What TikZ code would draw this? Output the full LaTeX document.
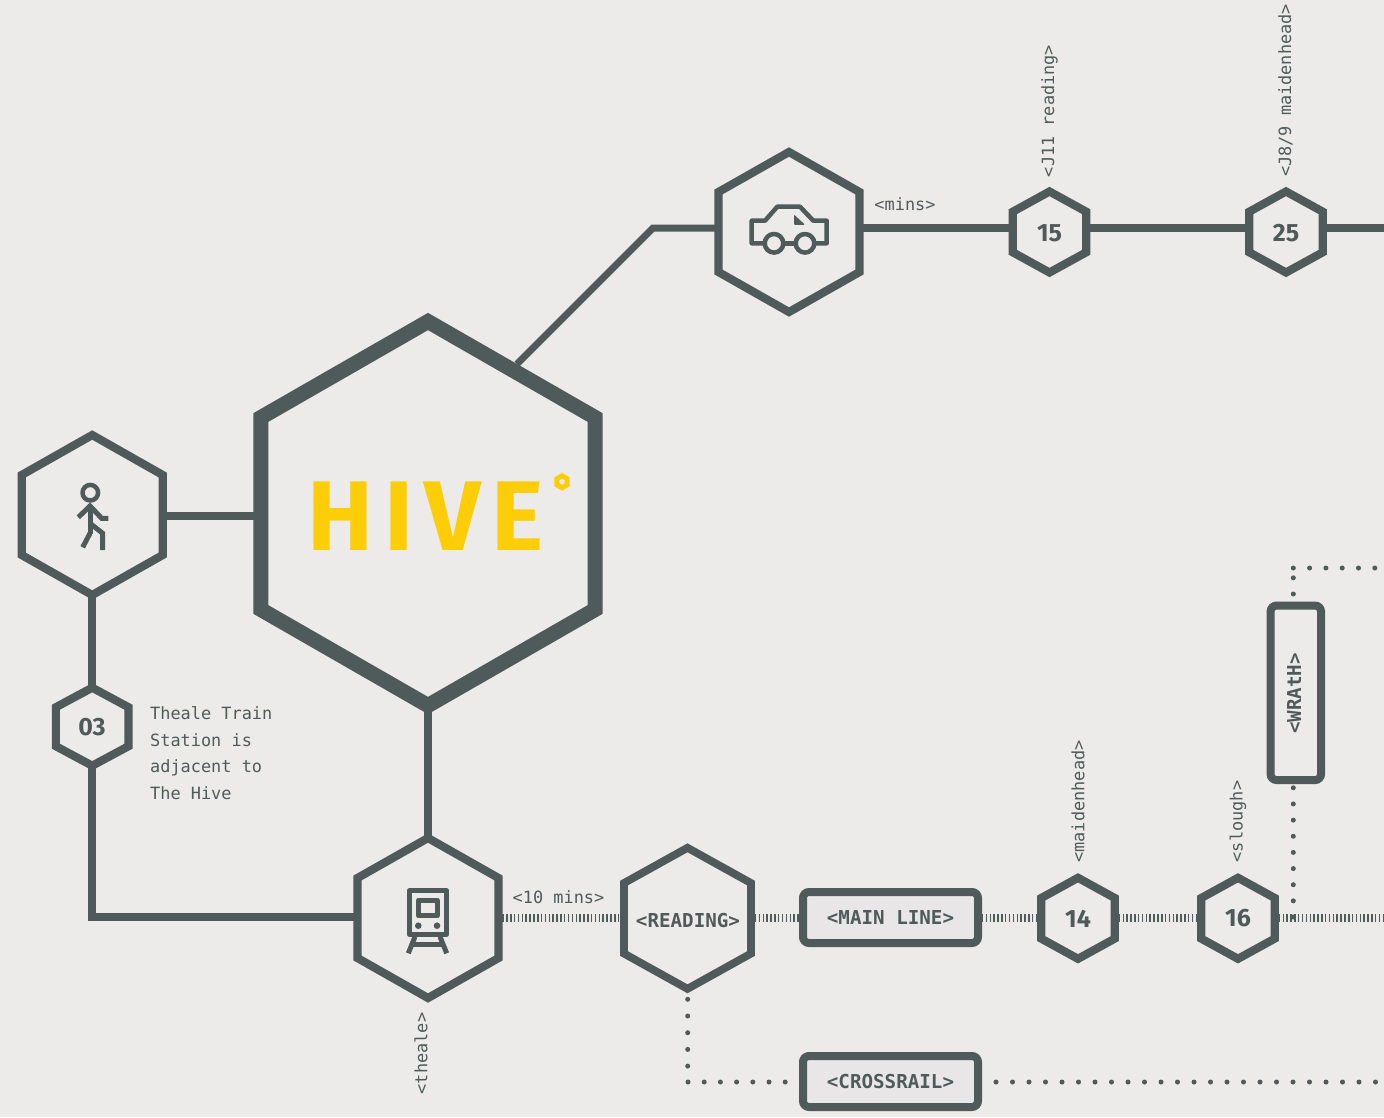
\documentclass[tikz,border=0pt]{standalone}
\usepackage{fontspec}
\usetikzlibrary{shapes.geometric,backgrounds}
\setmonofont{DejaVu Sans Mono}
\newfontfamily\numfont{Fira Sans}
\newfontfamily\hivefont[LetterSpace=11]{Fira Sans}
\definecolor{ink}{HTML}{4F5A5A}
\definecolor{bg}{HTML}{EDEBEA}
\definecolor{boxfill}{HTML}{E8E6E7}
\definecolor{hiveyellow}{HTML}{FDCD08}
\tikzset{
  hexnode/.style={regular polygon,regular polygon sides=6,regular polygon rotate=30,draw=ink,fill=bg,line width=8.2pt,miter limit=10,inner sep=0pt,outer sep=0pt,minimum size=#1,transform shape},
  numtext/.style={text=ink,inner sep=0pt,font=\numfont\bfseries\fontsize{25}{25}\selectfont},
  railbox/.style={draw=ink,fill=boxfill,line width=8pt,rounded corners=6pt,inner sep=0pt,outer sep=0pt,minimum width=175pt,minimum height=51pt,text=ink,font=\ttfamily\bfseries\fontsize{19.2}{19.2}\selectfont},
  solidline/.style={draw=ink,line width=7.7pt},
  hatchline/.style={draw=ink,line width=8pt,dash pattern=on 1.5pt off 2.35pt},
  dotline/.style={draw=ink,line width=5pt,line cap=round,dash pattern=on 0pt off #1},
  smalltext/.style={text=ink,font=\ttfamily\fontsize{16.9}{26.6}\selectfont,inner sep=0pt},
  boldtext/.style={text=ink,font=\ttfamily\bfseries\fontsize{19.2}{19.2}\selectfont,inner sep=0pt},
  icon/.style={draw=ink,line width=4.5pt,line join=round,fill=none},
}
\begin{document}
\begin{tikzpicture}[x=1pt,y=-1pt]
\useasboundingbox (0,0) rectangle (1384,1117);
% nodes
\node[hexnode=384pt,line width=15pt,xscale=1.005] (hive) at (428,513.5) {};
\node[hexnode=160pt,xscale=1.018] (car) at (789,232) {};
\node[hexnode=160pt,xscale=1.018] (walk) at (92.2,515) {};
\node[hexnode=160pt,xscale=1.018] (train) at (428,918) {};
\node[hexnode=141pt,xscale=1.04,line width=7.8pt] (reading) at (687.5,918.3) {};
\node[hexnode=81pt,xscale=1.05] (n15) at (1049.5,232) {};
\node[hexnode=81pt,xscale=1.05] (n25) at (1286,232) {};
\node[hexnode=78pt,xscale=1.075] (n03) at (92.2,726.7) {};
\node[hexnode=81pt,xscale=1.05] (n14) at (1078,918.3) {};
\node[hexnode=81pt,xscale=1.05] (n16) at (1238,918.3) {};
\node[numtext] (t15) at (1049.5,233.5) {15};
\node[numtext] (t25) at (1286,233.5) {25};
\node[numtext] (t03) at (92,726.7) {03};
\node[numtext] (t14) at (1078,918.5) {14};
\node[numtext] (t16) at (1238,918.5) {16};
\node[railbox] (mainline) at (890.5,917.5) {\raisebox{-0.5pt}{<MAIN LINE>}};
\node[railbox] (crossrail) at (890.5,1081.5) {\raisebox{-0.8pt}{<CROSSRAIL>}};
\node[railbox,fill=bg,minimum width=50.5pt,minimum height=174.5pt] (wrath) at (1295.8,692.8) {};
\node[boldtext,rotate=90] (wrathlabel) at (1294,693.5) {<WRAtH>};
\node[boldtext] (readinglabel) at (688,920.5) {<READING>};
% connectors
\coordinate (elbow) at (653,228);
\coordinate (hiveedge) at (517,364);
\coordinate (rightone) at (1384,228);
\coordinate (corner) at (92.2,917);
\coordinate (righttwo) at (1384,918.3);
\coordinate (dotstart) at (1293.3,917);
\coordinate (dotend) at (1293.3,575);
\coordinate (dottop) at (1293.3,568);
\coordinate (dotright) at (1384,568);
\coordinate (crossdown) at (687.7,999.3);
\coordinate (crossend) at (687.7,1076);
\coordinate (crosscorner) at (688,1082);
\coordinate (crossrightstart) at (996,1082);
\coordinate (crossright) at (1384,1082);
\begin{pgfonlayer}{background}
\fill[bg] (0,0) rectangle (1384,1117);
\draw[solidline,line width=7pt] (hiveedge) -- (elbow) -- (car.west |- elbow);
\draw[solidline] (car.east |- elbow) -- (n15.west |- elbow);
\draw[solidline] (n15.east |- elbow) -- (n25.west |- elbow);
\draw[solidline] (n25.east |- elbow) -- (rightone);
\draw[solidline] (walk.east |- 0,516) -- (hive.west |- 0,516);
\draw[solidline] (walk.south) -- (n03.north);
\draw[solidline] (n03.south) -- (corner) -- (train.west |- corner);
\draw[solidline] (hive.south) -- (train.north);
\draw[hatchline] (train.east |- righttwo) -- (reading.west |- righttwo);
\draw[hatchline] (reading.east |- righttwo) -- (mainline.west |- righttwo);
\draw[hatchline] (mainline.east |- righttwo) -- (n14.west |- righttwo);
\draw[hatchline] (n14.east |- righttwo) -- (n16.west |- righttwo);
\draw[hatchline] (n16.east |- righttwo) -- (righttwo);
\draw[dotline=16.15pt] (dotstart) -- (dotend);
\draw[dotline=16.3pt] (dottop) -- (dotright);
\draw[dotline=16.7pt] (crossdown) -- (crossend);
\draw[dotline=16.2pt] (crosscorner) -- (crossrail.west |- crosscorner);
\draw[dotline=16.5pt] (crossrightstart) -- (crossright);
\end{pgfonlayer}
% hive logo
\node[text=hiveyellow,font=\hivefont\bfseries\fontsize{99}{99}\selectfont,inner sep=0pt,anchor=base west] (hivetext) at (307.5,550) {HIVE};
\node[regular polygon,regular polygon sides=6,regular polygon rotate=30,draw=hiveyellow,line width=5pt,inner sep=0pt,outer sep=0pt,minimum size=12pt] (hivemark) at (562,481.8) {};
% labels
\node[smalltext] (minslabel) at (905,204) {<mins>};
\node[smalltext] (tenlabel) at (558.5,897) {<10 mins>};
\node[smalltext,rotate=90] (j11) at (1049.5,111) {<J11 reading>};
\node[smalltext,rotate=90] (j89) at (1285.5,90.5) {<J8/9 maidenhead>};
\node[smalltext,rotate=90] (maiden) at (1078,801.5) {<maidenhead>};
\node[smalltext,rotate=90] (slough) at (1238,821.5) {<slough>};
\node[smalltext,rotate=90] (theale) at (421,1053.5) {<theale>};
\node[smalltext,align=left,anchor=north west] (station) at (150,706.5) {Theale Train\\Station is\\adjacent to\\The Hive};
% car icon
\draw[icon] (763.3,243.3) -- (751.7,243.3) -- (751.7,220.7) -- (765,220.7) -- (777.3,206.7) -- (800,206.7) -- (813.3,220.7) -- (826.7,220.7) -- (826.7,243.3) -- (815,243.3);
\draw[icon] (783.3,243.3) -- (795,243.3);
\draw[icon] (774,243.3) circle (9.3pt);
\draw[icon] (805,243.3) circle (9.3pt);
\fill[ink,rounded corners=1pt] (794,214.5) -- (794,224.8) -- (805,224.8) -- cycle;
% walker icon
\draw[icon] (90.3,492.7) circle (7.8pt);
\draw[icon,line width=5pt,line join=miter] (78.3,517.3) -- (90,506) -- (101.7,518.3) -- (108.3,518.3);
\draw[icon,line width=5pt,line join=miter] (90,506) -- (90,534);
\draw[icon,line width=5pt,line join=miter] (90,523.3) -- (102.7,533.3) -- (102.7,550);
\draw[icon,line width=5pt,line join=miter] (90,533.3) -- (82.7,547.3);
% train icon
\draw[icon,line width=5pt] (409.2,890.8) rectangle (446.9,934.2);
\draw[icon,line width=5pt] (418.3,900.3) rectangle (437.3,915.7);
\fill[ink] (418.3,925.7) circle (3.3pt);
\fill[ink] (437,925.7) circle (3.3pt);
\draw[icon,line width=5pt,line join=miter] (415,936.7) -- (408.3,953.3);
\draw[icon,line width=5pt,line join=miter] (440,936.7) -- (446.7,953.3);
\draw[icon,line width=5pt,line join=miter] (411.3,944) -- (443.3,944);
\end{tikzpicture}
\end{document}
